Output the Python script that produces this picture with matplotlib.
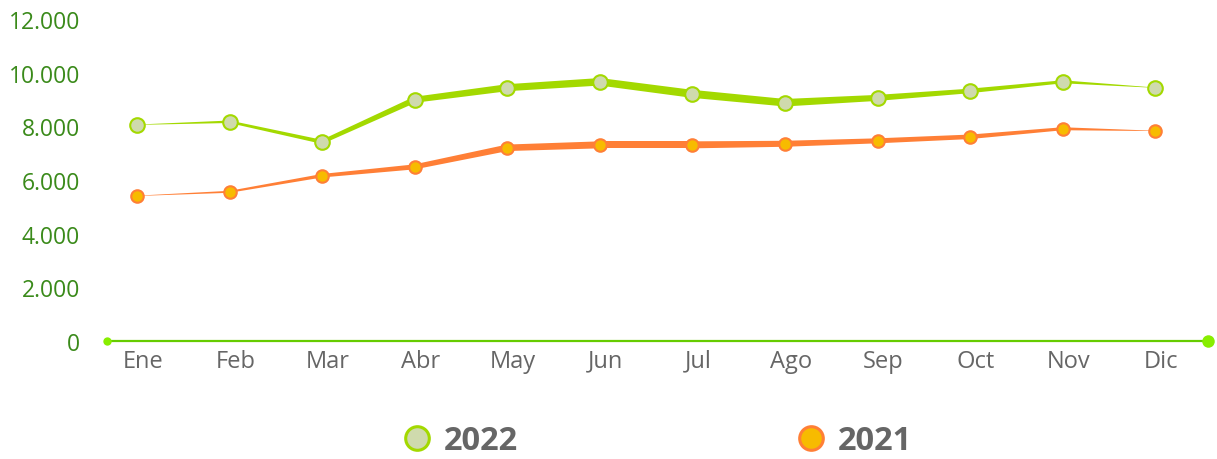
import numpy as np
import matplotlib
matplotlib.use("Agg")
import matplotlib.pyplot as plt
from matplotlib.patches import Polygon
from matplotlib.lines import Line2D
from matplotlib.transforms import IdentityTransform, ScaledTranslation

# ---- data ----
months = ["Ene", "Feb", "Mar", "Abr", "May", "Jun", "Jul", "Ago", "Sep", "Oct", "Nov", "Dic"]
values_2022 = [8060, 8170, 7420, 8990, 9440, 9660, 9210, 8880, 9060, 9320, 9660, 9440]
values_2021 = [5410, 5560, 6160, 6490, 7200, 7310, 7310, 7350, 7460, 7610, 7910, 7830]
y_ticks = [0, 2000, 4000, 6000, 8000, 10000, 12000]
y_tick_labels = ["0", "2.000", "4.000", "6.000", "8.000", "10.000", "12.000"]
series_names = ["2022", "2021"]

# ---- style ----
widths_2022 = [0.3, 2.5, 4, 6, 7, 7.5, 8, 7.5, 6, 4.5, 3, 0.3]
widths_2021 = [0.3, 2, 3.5, 5, 6.5, 7, 7, 6, 5, 4.5, 3, 0.3]
line_2022, fill_2022, edge_2022 = "#a3d900", "#cfdaad", "#a3d900"
line_2021, fill_2021, edge_2021 = "#ff7f36", "#f7bb00", "#ff7f36"
FONT = "Open Sans"

plt.rcParams["font.family"] = [FONT, "DejaVu Sans"]

W, H = 1217, 460
fig = plt.figure(figsize=(W / 100, H / 100), dpi=100)
left, right, top, bottom = 107, 1208, 20, 342
ax = fig.add_axes([left / W, 1 - bottom / H, (right - left) / W, (bottom - top) / H])

x = np.arange(len(months))
ax.set_xlim(-0.324, 11.57)
ax.set_ylim(0, 12000)

for s in ["top", "right", "left"]:
    ax.spines[s].set_visible(False)
ax.spines["bottom"].set_color("#66cc00")
ax.spines["bottom"].set_linewidth(1.6)

ax.set_yticks(y_ticks)
ax.set_yticklabels(y_tick_labels)
ax.set_xticks(x)
ax.set_xticklabels(months)
ax.tick_params(axis="y", length=0, pad=19.5, labelsize=16.5, labelcolor="#3a8a1a")
ax.tick_params(axis="x", length=0, pad=5.5, labelsize=17, labelcolor="#666666")
offset = ScaledTranslation(6 / 100, 0, fig.dpi_scale_trans)
for lab in ax.get_xticklabels():
    lab.set_transform(lab.get_transform() + offset)


def tapered(ax, xs, ys, widths, color):
    P = ax.transData.transform(np.column_stack([xs, ys]))
    for i in range(len(P) - 1):
        d = P[i + 1] - P[i]
        n = np.array([-d[1], d[0]]) / np.hypot(*d)
        w0, w1 = widths[i] / 2, widths[i + 1] / 2
        verts = [P[i] + n * w0, P[i + 1] + n * w1, P[i + 1] - n * w1, P[i] - n * w0]
        ax.add_patch(Polygon(verts, closed=True, facecolor=color, edgecolor="none",
                             transform=IdentityTransform(), zorder=2, clip_on=False))


tapered(ax, x, values_2022, widths_2022, line_2022)
tapered(ax, x, values_2021, widths_2021, line_2021)

ax.plot(x, values_2022, ls="none", marker="o", ms=10.5, mfc=fill_2022, mec=edge_2022,
        mew=1.5, zorder=4, clip_on=False)
ax.plot(x, values_2021, ls="none", marker="o", ms=9, mfc=fill_2021, mec=edge_2021,
        mew=1.5, zorder=4, clip_on=False)

# axis end dots
xl = ax.get_xlim()
ax.plot([xl[0]], [0], marker="o", ms=6, color="#88ee00", mec="none", clip_on=False, zorder=5)
ax.plot([xl[1]], [0], marker="o", ms=9, color="#88ee00", mec="none", clip_on=False, zorder=5)

handles = [
    Line2D([], [], ls="none", marker="o", ms=17, mfc=fill_2022, mec=edge_2022, mew=2.2),
    Line2D([], [], ls="none", marker="o", ms=17, mfc=fill_2021, mec=edge_2021, mew=2.2),
]
leg = fig.legend(handles, series_names, loc="center", bbox_to_anchor=(658 / W, 1 - 442 / H),
                 ncol=2, frameon=False, handlelength=0.8, handletextpad=0.4,
                 columnspacing=8.6, prop={"family": FONT, "weight": "bold", "size": 23.5})
for t in leg.get_texts():
    t.set_color("#666666")

fig.savefig("out.png", dpi=100)
